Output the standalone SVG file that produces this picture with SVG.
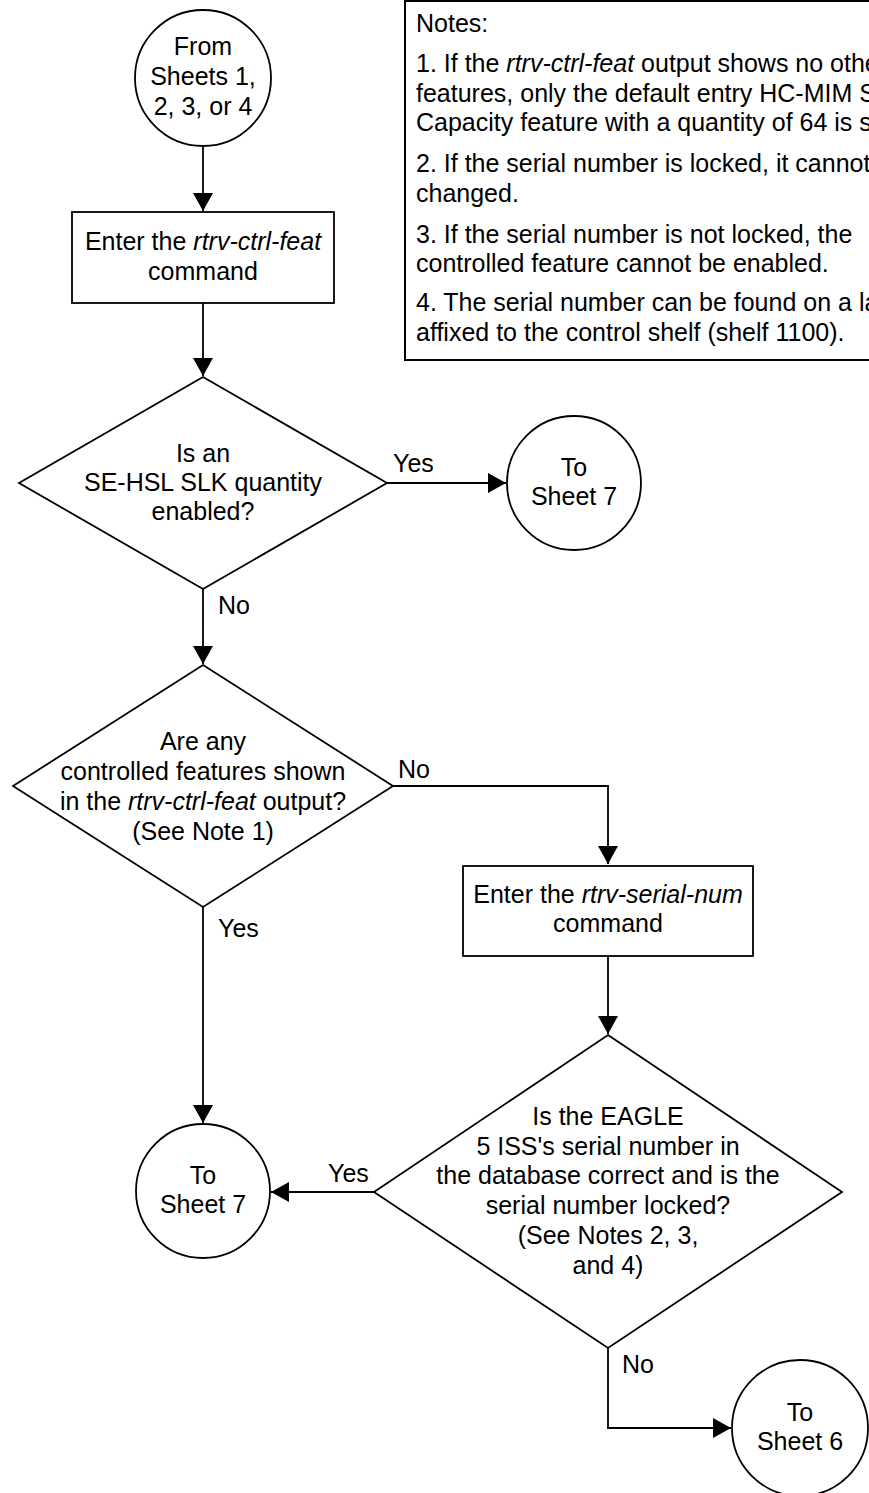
<svg xmlns="http://www.w3.org/2000/svg" width="869" height="1493" viewBox="0 0 869 1493">
<style>
.s{fill:#fff;stroke:#000;stroke-width:1.8}
.c{fill:none;stroke:#000;stroke-width:1.8}
text{font-family:"Liberation Sans",Arial,sans-serif;font-size:25px;fill:#000}
.m{text-anchor:middle}
.i{font-style:italic}
</style>
<defs>
<marker id="ah" markerUnits="userSpaceOnUse" markerWidth="20" markerHeight="20" refX="18" refY="10" orient="auto">
<path d="M0,0 L18,10 L0,20 z" fill="#000"/>
</marker>
</defs>
<rect width="869" height="1493" fill="#fff"/>
<g id="connectors">
<line class="c" x1="203" y1="146" x2="203" y2="211" marker-end="url(#ah)"/>
<line class="c" x1="203" y1="303" x2="203" y2="376" marker-end="url(#ah)"/>
<line class="c" x1="387" y1="483" x2="506" y2="483" marker-end="url(#ah)"/>
<text x="393" y="472">Yes</text>
<line class="c" x1="203" y1="589" x2="203" y2="664" marker-end="url(#ah)"/>
<text x="218" y="614">No</text>
<polyline class="c" points="393,786 608,786 608,864" marker-end="url(#ah)"/>
<text x="398" y="778">No</text>
<line class="c" x1="203" y1="907" x2="203" y2="1123" marker-end="url(#ah)"/>
<text x="218" y="937">Yes</text>
<line class="c" x1="608" y1="956" x2="608" y2="1034" marker-end="url(#ah)"/>
<line class="c" x1="374" y1="1192" x2="271" y2="1192" marker-end="url(#ah)"/>
<text x="328" y="1182">Yes</text>
<polyline class="c" points="608,1348 608,1428 731,1428" marker-end="url(#ah)"/>
<text x="622" y="1373">No</text>
</g>
<g id="notes">
<rect x="405" y="1" width="480" height="359" fill="#fff" stroke="#000" stroke-width="2"/>
<text x="416" y="32">Notes:</text>
<text x="416" y="72">1. If the <tspan class="i">rtrv-ctrl-feat</tspan> output shows no other</text>
<text x="416" y="102">features, only the default entry HC-MIM SLK</text>
<text x="416" y="131">Capacity feature with a quantity of 64 is shown.</text>
<text x="416" y="172">2. If the serial number is locked, it cannot</text>
<text x="416" y="202">changed.</text>
<text x="416" y="243">3. If the serial number is not locked, the</text>
<text x="416" y="272">controlled feature cannot be enabled.</text>
<text x="416" y="311">4. The serial number can be found on a label</text>
<text x="416" y="341">affixed to the control shelf (shelf 1100).</text>
</g>
<g id="start">
<circle class="s" cx="203" cy="78" r="68"/>
<text class="m" x="203" y="55">From</text>
<text class="m" x="203" y="85">Sheets 1,</text>
<text class="m" x="203" y="115">2, 3, or 4</text>
</g>
<g id="rtrv-ctrl-feat">
<rect class="s" x="72" y="212" width="262" height="91"/>
<text class="m" x="203" y="250">Enter the <tspan class="i">rtrv-ctrl-feat</tspan></text>
<text class="m" x="203" y="280">command</text>
</g>
<g id="dec-sehsl">
<polygon class="s" points="203,377 387,483 203,589 19,483"/>
<text class="m" x="203" y="462">Is an</text>
<text class="m" x="203" y="491">SE-HSL SLK quantity</text>
<text class="m" x="203" y="520">enabled?</text>
</g>
<g id="to-sheet7-a">
<circle class="s" cx="574" cy="483" r="67"/>
<text class="m" x="574" y="476">To</text>
<text class="m" x="574" y="505">Sheet 7</text>
</g>
<g id="dec-features">
<polygon class="s" points="203,665 393,786 203,907 13,786"/>
<text class="m" x="203" y="750">Are any</text>
<text class="m" x="203" y="780">controlled features shown</text>
<text class="m" x="203" y="810">in the <tspan class="i">rtrv-ctrl-feat</tspan> output?</text>
<text class="m" x="203" y="840">(See Note 1)</text>
</g>
<g id="rtrv-serial-num">
<rect class="s" x="463" y="866" width="290" height="90"/>
<text class="m" x="608" y="903">Enter the <tspan class="i">rtrv-serial-num</tspan></text>
<text class="m" x="608" y="932">command</text>
</g>
<g id="dec-serial">
<polygon class="s" points="608,1035 842,1192 608,1348 374,1192"/>
<text class="m" x="608" y="1125">Is the EAGLE</text>
<text class="m" x="608" y="1155">5 ISS's serial number in</text>
<text class="m" x="608" y="1184">the database correct and is the</text>
<text class="m" x="608" y="1214">serial number locked?</text>
<text class="m" x="608" y="1244">(See Notes 2, 3,</text>
<text class="m" x="608" y="1274">and 4)</text>
</g>
<g id="to-sheet7-b">
<circle class="s" cx="203" cy="1191" r="67"/>
<text class="m" x="203" y="1184">To</text>
<text class="m" x="203" y="1213">Sheet 7</text>
</g>
<g id="to-sheet6">
<circle class="s" cx="800" cy="1428" r="68"/>
<text class="m" x="800" y="1421">To</text>
<text class="m" x="800" y="1450">Sheet 6</text>
</g>
</svg>
